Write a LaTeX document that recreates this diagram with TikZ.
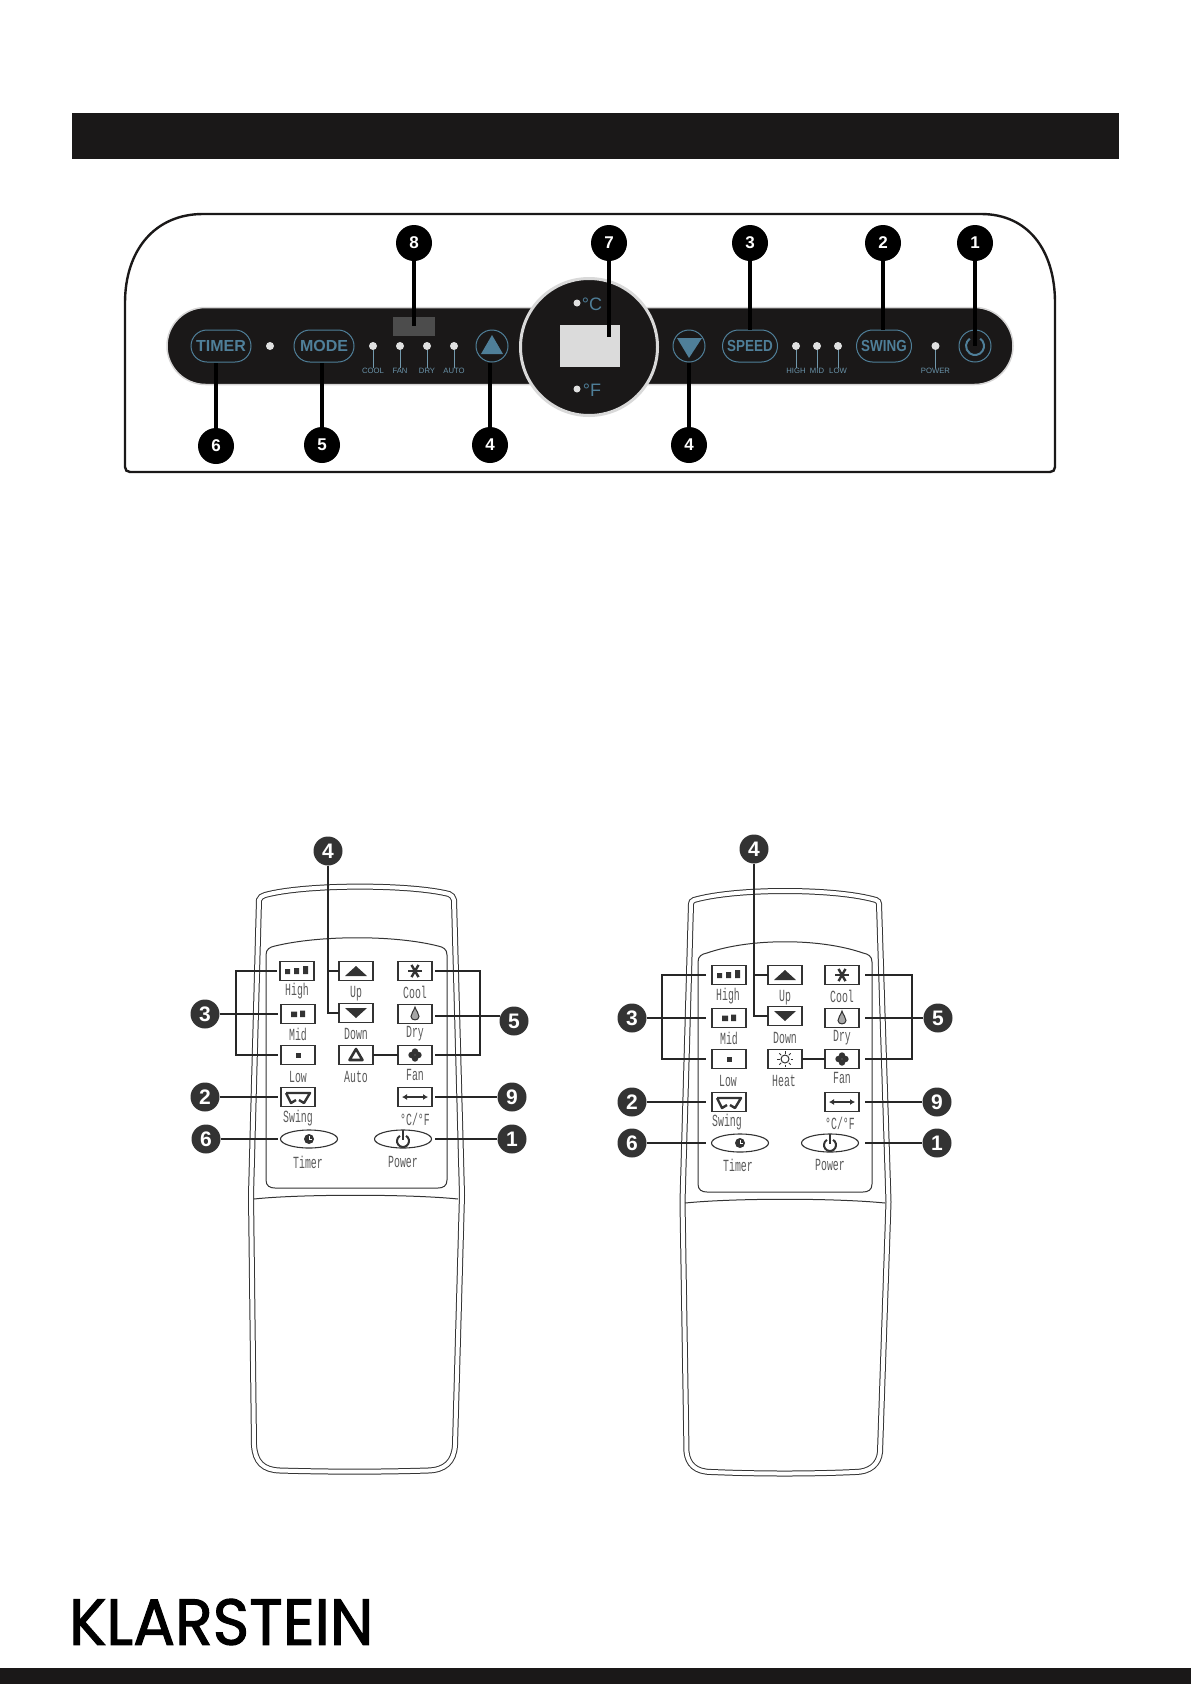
\documentclass[tikz,border=0pt]{standalone}
\usepackage{fontspec}
\usepackage{tikz}
\usetikzlibrary{arrows.meta}
\usetikzlibrary{positioning, shapes.geometric}
\setmainfont{Liberation Sans}
\newfontfamily\remotefont[FakeStretch=0.58]{Liberation Mono}
\newfontfamily\condfont[FakeStretch=0.84]{Liberation Sans}
\newfontfamily\logofont[FakeBold=1.6, FakeStretch=0.955]{Poppins}
\definecolor{panelink}{HTML}{1A1818}
\definecolor{panelblue}{HTML}{4F7F99}
\definecolor{remoteink}{HTML}{333333}
\tikzset{
  barblock/.style={fill=panelink, draw=panelink!18, line width=1.5pt, rounded corners=38.5pt, minimum width=846pt, minimum height=77pt, inner sep=0pt},
  keyoval/.style={draw=panelblue, line width=1pt, rounded corners=16pt, minimum width=60pt, minimum height=32pt, inner sep=0pt, text=panelblue, font=\fontsize{16}{16}\selectfont\bfseries},
  keyround/.style={draw=panelblue, line width=1pt, circle, minimum size=32pt, inner sep=0pt},
  lamp/.style={fill=black!12, circle, minimum size=8pt, inner sep=0pt},
  lamptick/.style={draw=panelblue!80, line width=.7pt},
  lamptext/.style={text=panelblue!85!white, font=\fontsize{7.7}{8}\selectfont, inner sep=0pt},
  topbadge/.style={fill=black, circle, minimum size=36pt, inner sep=0pt, text=white, font=\fontsize{17}{17}\selectfont\bfseries},
  toplead/.style={draw=black, line width=4pt},
  rembadge/.style={fill=remoteink, circle, minimum size=29pt, inner sep=0pt, text=white, font=\fontsize{21}{21}\selectfont\bfseries},
  remlead/.style={draw=black!85, line width=1.8pt},
  remshell/.style={draw=remoteink, double=white, double distance=4pt, line width=1pt},
  remline/.style={draw=remoteink, line width=1pt},
  rembtn/.style={draw=remoteink, line width=1.2pt, minimum width=34pt, minimum height=19pt, inner sep=0pt, outer sep=3pt},
  removal/.style={draw=remoteink, line width=1.1pt, ellipse, minimum width=57pt, minimum height=18pt, inner sep=0pt, outer sep=3pt},
  remtext/.style={text=black!65, inner sep=0pt, font=\fontsize{17}{17}\remotefont},
  pics/triup/.style={code={\fill[remoteink] (-11,5) -- (0,-5) -- (11,5) -- cycle;}},
  pics/tridown/.style={code={\fill[remoteink] (-11,-5) -- (11,-5) -- (0,5) -- cycle;}},
  pics/barlow/.style={code={\fill[remoteink] (-2.5,-2.5) rectangle (2.5,2.5);}},
  pics/barmid/.style={code={\fill[remoteink] (-7,-2.5) rectangle (-1,3) (2,-3.5) rectangle (7,3);}},
  pics/barhigh/.style={code={\fill[remoteink] (-12,-2) rectangle (-7,3) (-3,-3) rectangle (2,3) (6,-5) rectangle (11,3);}},
  pics/snow/.style={code={\foreach \ang in {0,60,120} \draw[remoteink, line width=2.4pt] (\ang:7) -- (\ang+180:7);}},
  pics/drop/.style={code={\draw[remoteink, line width=1pt, fill=black!35] (0,-7) .. controls (1,-3) and (4,-1) .. (4,2.5) .. controls (4,7) and (-4,7) .. (-4,2.5) .. controls (-4,-1) and (-1,-3) .. (0,-7) -- cycle;}},
  pics/fanleaf/.style={code={\fill[remoteink] (0,-3.5) circle (3.2) (0,3.5) circle (3.2) (-3.5,0) circle (3.2) (3.5,0) circle (3.2);}},
  pics/loopicon/.style={code={\draw[remoteink, line width=2.6pt, line join=round] (0,-6) -- (6.5,5) -- (-6.5,5) -- cycle;}},
  pics/sunicon/.style={code={\draw[remoteink, line width=1pt] (0,0) circle (4); \foreach \ang in {0,45,...,315} \draw[remoteink, line width=1pt] (\ang:5.5) -- (\ang:8);}},
  pics/swingicon/.style={code={\draw[remoteink, line width=2.4pt, line join=round] (-12,-4) -- (12,-4) -- (6,6) -- (1,3) (-12,-4) -- (-7,6) -- (-2,3);}},
  pics/twoway/.style={code={\draw[{Latex[length=5pt,width=6pt]}-{Latex[length=5pt,width=6pt]}, remoteink, line width=1.4pt] (-13,0) -- (13,0);}},
  pics/clockicon/.style={code={\fill[remoteink] (0,0) circle (5); \draw[white, line width=1pt] (0,-3) -- (0,0) -- (3,0);}},
  pics/powericon/.style={code={\draw[remoteink, line width=2pt, shift={(0,2)}] (-60:6) arc (-60:240:6); \draw[remoteink, line width=2pt] (0,-9) -- (0,1);}},
}
\begin{document}
\begin{tikzpicture}[x=1pt, y=-1pt]
  \useasboundingbox (0,0) rectangle (1191,1684);
  % header and footer bands
  \fill[panelink] (72,113) rectangle (1119,159);
  \fill[panelink] (0,1668) rectangle (1191,1684);
  \node[anchor=west, inner sep=0pt, font=\fontsize{65}{65}\logofont] (logo) at (69,1622) {KLARSTEIN};

  % control panel outline
  \draw[draw=panelink, line width=2.4pt] (125,303) .. controls (125,250) and (155,214) .. (203,214) -- (981,214) .. controls (1028,214) and (1055,250) .. (1055,303) -- (1055,467) .. controls (1055,470) and (1053,472) .. (1050,472) -- (130,472) .. controls (127,472) and (125,470) .. (125,467) -- cycle;
  \node[barblock] (bar) at (590,346) {};
  \node[fill=black!70, minimum width=42pt, minimum height=19pt, inner sep=0pt] (leddisp) at (414,326) {};
  \node[circle, fill=panelink, draw=black!15, line width=3pt, minimum size=137pt, inner sep=0pt] (dial) at (589,347) {};
  \node[fill=black!14, minimum width=60pt, minimum height=42pt, inner sep=0pt] (screen) at (590,346) {};
  \coordinate (screenmark) at (609,337);
  \node[lamp, minimum size=7pt] (lampc) at (577,303) {};
  \node[text=panelblue, inner sep=0pt, font=\fontsize{18}{18}\selectfont] (degc) at (592,304) {°C};
  \node[lamp, minimum size=7pt] (lampf) at (577,389) {};
  \node[text=panelblue, inner sep=0pt, font=\fontsize{18}{18}\selectfont] (degf) at (592,390) {°F};

  % panel keys
  \node[keyoval] (timer) at (221,346) {TIMER};
  \node[keyoval] (mode) at (324,346) {MODE};
  \node[keyoval, minimum width=55pt, font=\fontsize{16}{16}\condfont\bfseries] (speed) at (750,346) {SPEED};
  \node[keyoval, minimum width=55pt, font=\fontsize{16}{16}\condfont\bfseries] (swing) at (884,346) {SWING};
  \node[keyround] (keyup) at (492,346) {};
  \node[keyround] (keydown) at (689,346) {};
  \node[keyround] (keypower) at (975,346) {};
  \fill[panelblue] (481,354) -- (492,335) -- (503,354) -- cycle;
  \fill[panelblue] (677,338) -- (702,338) -- (689,358) -- cycle;
  \draw[panelblue, line width=2pt, shift={(keypower.center)}] (-55:9) arc (-55:235:9);

  % lamps with their captions
  \node[lamp] (lamptimer) at (270,346) {};
  \foreach \nm/\cx/\txt in {cool/373/COOL, fan/400/FAN, dry/427/DRY, auto/454/AUTO, high/796/HIGH, mid/817/MID, low/838/LOW, power/935.5/POWER} {
    \node[lamp] (lamp\nm) at (\cx,346) {};
    \node[lamptext] (cap\nm) at (\cx,371) {\txt};
    \draw[lamptick] (lamp\nm) -- (cap\nm.north);
  }

  % numbered badges along the panel
  \foreach \nm/\cx/\cy/\txt in {pa/975/243/1, pb/883/243/2, pc/750/243/3, pg/609/243/7, ph/414/243/8, pf/216/446/6, pe/322/445/5, pd/490/445/4, pdd/689/445/4}
    \node[topbadge] (\nm) at (\cx,\cy) {\txt};
  \draw[toplead] (pa) -- (keypower.center);
  \draw[toplead] (pb) -- (pb |- swing.north);
  \draw[toplead] (pc) -- (speed.north);
  \draw[toplead] (pg) -- (screenmark);
  \draw[toplead] (ph) -- (leddisp.center);
  \draw[toplead] (pf) -- (pf |- timer.south);
  \draw[toplead] (pe) -- (pe |- mode.south);
  \draw[toplead] (pd) -- (pd |- keyup.south);
  \draw[toplead] (pdd) -- (keydown.south);

  % left remote, shell and key field
  \draw[remshell] (265,895) .. controls (305,884) and (410,884) .. (449,894) .. controls (452,895) and (453,897) .. (454,900) -- (462,1195) -- (455,1445) .. controls (454,1462) and (445,1470) .. (428,1470.5) .. controls (380,1472) and (330,1472) .. (280,1470.5) .. controls (263,1470) and (255,1462) .. (254,1445) -- (251,1195) -- (259,900) .. controls (260,897) and (262,896) .. (265,895) -- cycle;
  \draw[remline] (254,1199) .. controls (300,1194) and (410,1194) .. (458,1199);
  \draw[remline] (266,955) .. controls (266,949) and (270,947) .. (275,946) .. controls (320,935) and (395,935) .. (438,946) .. controls (443,947) and (447,949) .. (447,955) -- (447,1180) .. controls (447,1186) and (443,1188) .. (438,1188) -- (275,1188) .. controls (270,1188) and (266,1186) .. (266,1180) -- cycle;
  \foreach \nm/\cx/\cy in {lhigh/297/971, lmid/298/1014, llow/298/1055, lup/356/971, ldown/356/1013, lauto/356/1055, lcool/415/971, ldry/415/1014, lfan/415/1055, lswing/298/1097, lunit/415/1097}
    \node[rembtn] (\nm) at (\cx,\cy) {};
  \node[removal] (ltimer) at (309,1139) {};
  \node[removal] (lpower) at (403,1139) {};
  \pic at (lhigh) {barhigh};
  \pic at (lmid) {barmid};
  \pic at (llow) {barlow};
  \pic at (lup) {triup};
  \pic at (ldown) {tridown};
  \pic at (lauto) {loopicon};
  \pic at (lcool) {snow};
  \pic at (ldry) {drop};
  \pic at (lfan) {fanleaf};
  \pic at (lswing) {swingicon};
  \pic at (lunit) {twoway};
  \pic at (ltimer) {clockicon};
  \pic at (lpower) {powericon};
  \foreach \nm/\cx/\cy/\txt in {tlhigh/297/991/High, tlmid/298/1034/Mid, tllow/298/1077/Low, tlup/356/994/Up, tldown/356/1034/Down, tlauto/356/1077/Auto, tlcool/415/992/Cool, tldry/415/1034/Dry, tlfan/415/1075/Fan, tlswing/298/1118/Swing, tlunit/415/1119/{°C/°F}, tltimer/308/1162/Timer, tlpower/403/1162/Power}
    \node[remtext] (\nm) at (\cx,\cy) {\txt};
  % left remote, badges and leads
  \foreach \nm/\cx/\cy/\txt in {la/512/1139/1, lb/205/1097/2, lc/205/1014/3, ld/328/851/4, le/514/1021/5, lf/206/1139/6, li/512/1097/9}
    \node[rembadge] (\nm) at (\cx,\cy) {\txt};
  \coordinate (lbrkl) at (236,1014);
  \coordinate (lbrkr) at (480,1014);
  \coordinate (lstem) at (328,971);
  \draw[remlead] (lhigh.west) -| (lbrkl) |- (llow.west);
  \draw[remlead] (lc) -- (lmid.west);
  \draw[remlead] (lcool.east) -| (lbrkr) |- (lfan.east);
  \draw[remlead] (le.160) -- (ldry.east |- le.160);
  \draw[remlead, shorten >=-3pt] (ld) |- (ldown.west);
  \draw[remlead, shorten >=-3pt] (lstem) -- (lup.west);
  \draw[remlead, shorten <=-3pt, shorten >=-3pt] (lauto.east) -- (lfan.west);
  \draw[remlead] (lb) -- (lswing.west);
  \draw[remlead] (li) -- (lunit.east);
  \draw[remlead] (lf) -- (ltimer.west);
  \draw[remlead] (la) -- (lpower.east);

  % right remote, shell and key field
  \draw[remshell] (694,900) .. controls (735,888) and (835,888) .. (876,900) .. controls (878,901) and (879,902) .. (879,904) -- (888.5,1202) -- (880,1452) .. controls (879,1464) and (870,1472) .. (855,1472) .. controls (810,1474) and (760,1474) .. (712,1472) .. controls (695,1472) and (688,1464) .. (686.5,1452) -- (682.5,1202) -- (691,904) .. controls (691,902) and (692,901) .. (694,900) -- cycle;
  \draw[remline] (685,1203) .. controls (735,1198) and (835,1198) .. (885,1203);
  \draw[remline] (698,962) .. controls (698,956) and (702,954) .. (707,953) .. controls (750,938) and (820,938) .. (863,953) .. controls (868,954) and (872,956) .. (872,962) -- (872,1184) .. controls (872,1190) and (868,1192) .. (863,1192) -- (707,1192) .. controls (702,1192) and (698,1190) .. (698,1184) -- cycle;
  \foreach \nm/\cx/\cy in {rhigh/729/975, rmid/729/1018, rlow/729/1059, rup/785/975, rdown/785/1016, rheat/785/1059, rcool/842/975, rdry/842/1018, rfan/842/1059, rswing/729/1102, runit/842/1102}
    \node[rembtn, outer sep=6pt] (\nm) at (\cx,\cy) {};
  \node[removal, outer sep=6pt] (rtimer) at (740,1143) {};
  \node[removal, outer sep=6pt] (rpower) at (830,1143) {};
  \pic at (rhigh) {barhigh};
  \pic at (rmid) {barmid};
  \pic at (rlow) {barlow};
  \pic at (rup) {triup};
  \pic at (rdown) {tridown};
  \pic at (rheat) {sunicon};
  \pic at (rcool) {snow};
  \pic at (rdry) {drop};
  \pic at (rfan) {fanleaf};
  \pic at (rswing) {swingicon};
  \pic at (runit) {twoway};
  \pic at (rtimer) {clockicon};
  \pic at (rpower) {powericon};
  \foreach \nm/\cx/\cy/\txt in {trhigh/728/996/High, trmid/729/1038/Mid, trlow/728/1081/Low, trup/785/998/Up, trdown/785/1038/Down, trheat/784/1081/Heat, trcool/842/996/Cool, trdry/842/1038/Dry, trfan/842/1078/Fan, trswing/727/1122/Swing, trunit/840/1123/{°C/°F}, trtimer/738/1165/Timer, trpower/830/1165/Power}
    \node[remtext] (\nm) at (\cx,\cy) {\txt};
  % right remote, badges and leads
  \foreach \nm/\cx/\cy/\txt in {ra/937/1143/1, rb/632/1102/2, rc/632/1018/3, rd/754/849/4, re/938/1018/5, rf/632/1143/6, ri/937/1102/9}
    \node[rembadge] (\nm) at (\cx,\cy) {\txt};
  \coordinate (rbrkl) at (662,1018);
  \coordinate (rbrkr) at (912,1018);
  \coordinate (rstem) at (754,975);
  \draw[remlead] (rhigh.west) -| (rbrkl) |- (rlow.west);
  \draw[remlead] (rc) -- (rmid.west);
  \draw[remlead] (rcool.east) -| (rbrkr) |- (rfan.east);
  \draw[remlead] (re) -- (rdry.east);
  \draw[remlead, shorten >=-6pt] (rd) |- (rdown.west);
  \draw[remlead, shorten >=-6pt] (rstem) -- (rup.west);
  \draw[remlead, shorten <=-6pt, shorten >=-6pt] (rheat.east) -- (rfan.west);
  \draw[remlead] (rb) -- (rswing.west);
  \draw[remlead] (ri) -- (runit.east);
  \draw[remlead] (rf) -- (rtimer.west);
  \draw[remlead] (ra) -- (rpower.east);
\end{tikzpicture}
\end{document}
